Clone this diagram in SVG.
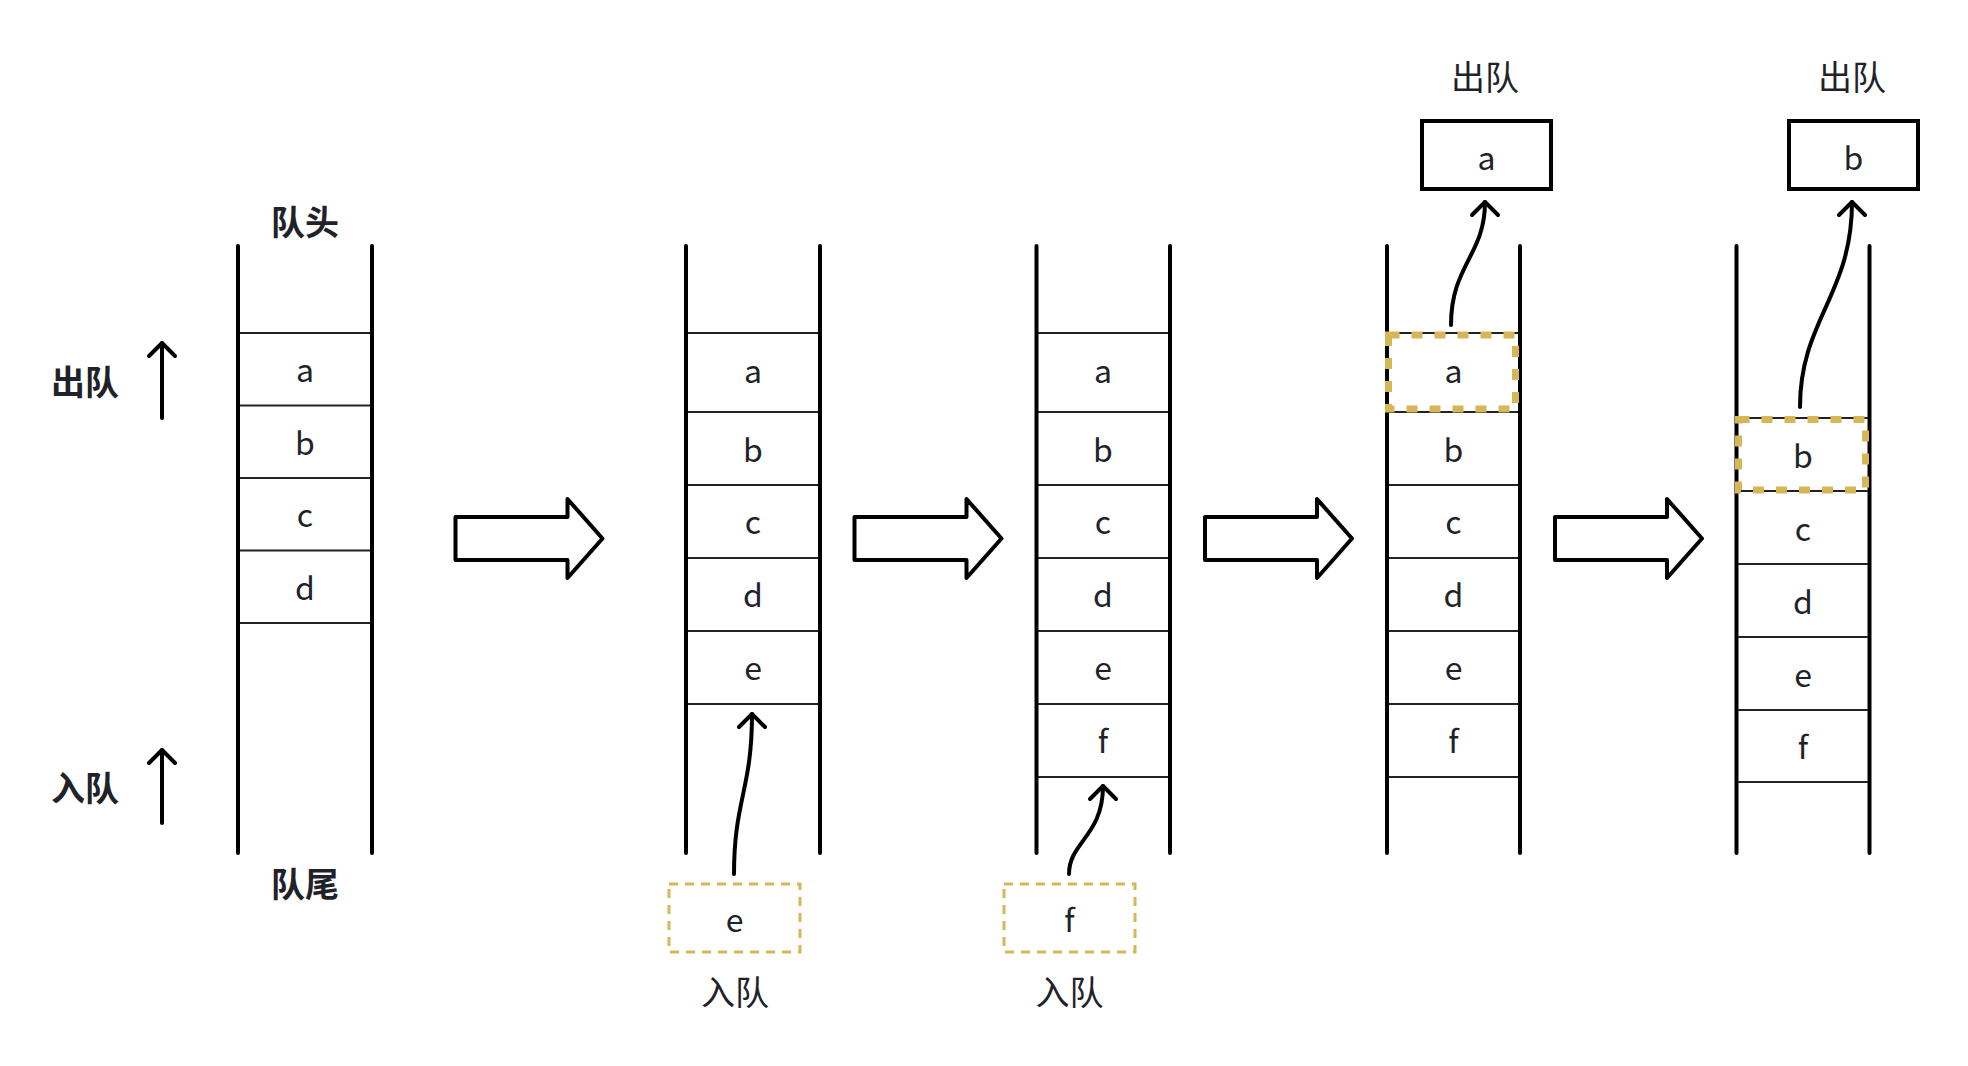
<svg xmlns="http://www.w3.org/2000/svg" width="1968" height="1066" viewBox="0 0 1968 1066">
<defs>
<style>
.rail{stroke:#000;stroke-width:4;stroke-linecap:round;fill:none}
.row{stroke:#222;stroke-width:2;fill:none}
.lt{font-family:"Noto Sans CJK SC","Noto Sans",sans-serif;font-size:32px;fill:#1f2329;text-anchor:middle}
.cjk{font-family:"Noto Sans CJK SC",sans-serif;font-size:34px;fill:#1f2329;text-anchor:middle}
.bold{font-weight:bold}
.big{fill:#fff;stroke:#000;stroke-width:4;stroke-linejoin:round}
.conn{fill:none;stroke:#000;stroke-width:4;stroke-linecap:round}
.pend{fill:none;stroke:#D6B656;stroke-width:3;stroke-dasharray:9 7}
.hl{fill:none;stroke:#D6B656;stroke-width:7;stroke-dasharray:11 12}
.box{fill:#fff;stroke:#000;stroke-width:4}
</style>
<marker id="open" viewBox="-16 -16 20 32" markerWidth="20" markerHeight="32" refX="0" refY="0" orient="auto" markerUnits="userSpaceOnUse">
<path d="M-13,-13 L0,0 L-13,13" fill="none" stroke="#000" stroke-width="4" stroke-linecap="round" stroke-linejoin="round"/>
</marker>
<path id="bigArrow" d="M0,-21.5 H112 V-39.5 L147,0 L112,39.5 V21.5 H0 Z"/>
</defs>
<rect width="1968" height="1066" fill="#fff"/>

<g id="stack1">
<line class="rail" x1="238" y1="246" x2="238" y2="853"/>
<line class="rail" x1="372" y1="246" x2="372" y2="853"/>
<line class="row" x1="240" y1="333" x2="370" y2="333"/>
<line class="row" x1="240" y1="405.5" x2="370" y2="405.5"/>
<line class="row" x1="240" y1="478" x2="370" y2="478"/>
<line class="row" x1="240" y1="550.5" x2="370" y2="550.5"/>
<line class="row" x1="240" y1="623" x2="370" y2="623"/>
<text class="lt" x="305" y="382">a</text>
<text class="lt" x="305" y="454.5">b</text>
<text class="lt" x="305" y="527">c</text>
<text class="lt" x="305" y="600">d</text>
<text class="cjk bold" x="305" y="235">队头</text>
<text class="cjk bold" x="305" y="897">队尾</text>
</g>

<g id="side-labels">
<text class="cjk bold" x="85" y="395">出队</text>
<text class="cjk bold" x="85" y="801">入队</text>
</g>

<g id="stack2">
<line class="rail" x1="686" y1="246" x2="686" y2="853"/>
<line class="rail" x1="820" y1="246" x2="820" y2="853"/>
<line class="row" x1="688" y1="333" x2="818" y2="333"/>
<line class="row" x1="688" y1="412" x2="818" y2="412"/>
<line class="row" x1="688" y1="485" x2="818" y2="485"/>
<line class="row" x1="688" y1="558" x2="818" y2="558"/>
<line class="row" x1="688" y1="631" x2="818" y2="631"/>
<line class="row" x1="688" y1="704" x2="818" y2="704"/>
<text class="lt" x="753" y="383">a</text>
<text class="lt" x="753" y="461.5">b</text>
<text class="lt" x="753" y="533.5">c</text>
<text class="lt" x="753" y="607">d</text>
<text class="lt" x="753" y="680">e</text>
</g>

<g id="pending-e">
<rect class="pend" x="669" y="884" width="131" height="68"/>
<text class="lt" x="734.5" y="932">e</text>
<text class="cjk" x="735" y="1005">入队</text>
</g>

<g id="stack3">
<line class="rail" x1="1036.5" y1="246" x2="1036.5" y2="853"/>
<line class="rail" x1="1170" y1="246" x2="1170" y2="853"/>
<line class="row" x1="1038" y1="333" x2="1168" y2="333"/>
<line class="row" x1="1038" y1="412" x2="1168" y2="412"/>
<line class="row" x1="1038" y1="485" x2="1168" y2="485"/>
<line class="row" x1="1038" y1="558" x2="1168" y2="558"/>
<line class="row" x1="1038" y1="631" x2="1168" y2="631"/>
<line class="row" x1="1038" y1="704" x2="1168" y2="704"/>
<line class="row" x1="1038" y1="777" x2="1168" y2="777"/>
<text class="lt" x="1103" y="383">a</text>
<text class="lt" x="1103" y="461.5">b</text>
<text class="lt" x="1103" y="533.5">c</text>
<text class="lt" x="1103" y="607">d</text>
<text class="lt" x="1103" y="680">e</text>
<text class="lt" x="1103" y="753">f</text>
</g>

<g id="pending-f">
<rect class="pend" x="1004" y="884" width="131" height="68"/>
<text class="lt" x="1069.5" y="932">f</text>
<text class="cjk" x="1069.5" y="1005">入队</text>
</g>

<g id="stack4">
<line class="rail" x1="1387" y1="246" x2="1387" y2="853"/>
<line class="rail" x1="1520" y1="246" x2="1520" y2="853"/>
<line class="row" x1="1389" y1="333" x2="1518" y2="333"/>
<line class="row" x1="1389" y1="412" x2="1518" y2="412"/>
<line class="row" x1="1389" y1="485" x2="1518" y2="485"/>
<line class="row" x1="1389" y1="558" x2="1518" y2="558"/>
<line class="row" x1="1389" y1="631" x2="1518" y2="631"/>
<line class="row" x1="1389" y1="704" x2="1518" y2="704"/>
<line class="row" x1="1389" y1="777" x2="1518" y2="777"/>
<rect class="hl" x="1388.5" y="335" width="127" height="74"/>
<text class="lt" x="1453.5" y="383">a</text>
<text class="lt" x="1453.5" y="461.5">b</text>
<text class="lt" x="1453.5" y="533.5">c</text>
<text class="lt" x="1453.5" y="607">d</text>
<text class="lt" x="1453.5" y="680">e</text>
<text class="lt" x="1453.5" y="753">f</text>
</g>

<g id="out-a">
<rect class="box" x="1422" y="121" width="129" height="68"/>
<text class="lt" x="1486.5" y="170">a</text>
<text class="cjk" x="1485" y="90">出队</text>
</g>

<g id="stack5">
<line class="rail" x1="1736.5" y1="246" x2="1736.5" y2="853"/>
<line class="rail" x1="1869.5" y1="246" x2="1869.5" y2="853"/>
<line class="row" x1="1738" y1="418" x2="1868" y2="418"/>
<line class="row" x1="1738" y1="491" x2="1868" y2="491"/>
<line class="row" x1="1738" y1="564" x2="1868" y2="564"/>
<line class="row" x1="1738" y1="637" x2="1868" y2="637"/>
<line class="row" x1="1738" y1="710" x2="1868" y2="710"/>
<line class="row" x1="1738" y1="782" x2="1868" y2="782"/>
<rect class="hl" x="1738.5" y="419.5" width="127" height="70.5"/>
<text class="lt" x="1803" y="468">b</text>
<text class="lt" x="1803" y="541">c</text>
<text class="lt" x="1803" y="614">d</text>
<text class="lt" x="1803" y="687">e</text>
<text class="lt" x="1803" y="759">f</text>
</g>

<g id="out-b">
<rect class="box" x="1789" y="121" width="129" height="68"/>
<text class="lt" x="1853.5" y="170">b</text>
<text class="cjk" x="1852" y="90">出队</text>
</g>

<g id="connectors">
<use href="#bigArrow" class="big" transform="translate(455.5,538.5)"/>
<use href="#bigArrow" class="big" transform="translate(854.5,538.5)"/>
<use href="#bigArrow" class="big" transform="translate(1205,538.5)"/>
<use href="#bigArrow" class="big" transform="translate(1555,538.5)"/>
<line class="conn" x1="162" y1="418" x2="162" y2="343" marker-end="url(#open)"/>
<line class="conn" x1="162" y1="823" x2="162" y2="750" marker-end="url(#open)"/>
<path class="conn" d="M734,874 C734,800 752,790 752,714" marker-end="url(#open)"/>
<path class="conn" d="M1069,874 C1069,842 1103,836 1103,786" marker-end="url(#open)"/>
<path class="conn" d="M1451,325 C1451,265 1485,255 1485,202" marker-end="url(#open)"/>
<path class="conn" d="M1800,407 C1800,320 1852,295 1852,202" marker-end="url(#open)"/>
</g>
</svg>
